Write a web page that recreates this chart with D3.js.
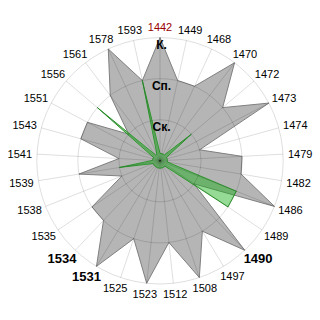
<!DOCTYPE html>
<html><head><meta charset="utf-8">
<script src="https://cdn.jsdelivr.net/npm/d3@7"></script>
<style>html,body{margin:0;padding:0;background:#fff;}svg{display:block;}</style>
</head><body>
<script>
const categories = ["1442","1449","1468","1470","1472","1473","1474","1479","1482","1486","1489","1490","1497","1508","1512","1523","1525","1531","1534","1535","1538","1539","1541","1543","1551","1556","1561","1578","1593"];
const grayValues = [3,2,2,3,2,3,1,2,2,3,1,3,2,3,2,3,2,3,2,2,1,2,1,2,2,1,2,3,2];
const greenValues = [0.18,0.18,0.18,0.18,1,0.18,0.18,0.18,0.18,2,2,0.18,0.18,0.18,0.18,0.18,0.18,0.18,0.18,0.18,0.18,1,0.18,0.18,0.18,2,0.18,0.18,2];
const levelValues = [1,2,3];
const levelLabels = ["Ск.","Сп.","К."];
const boldLabels = ["1490","1531","1534"];
const highlightLabel = "1442";

const W = 320, H = 320, cx = 160, cy = 160.8, R = 123.2;
const svg = d3.select("body").append("svg").attr("width", W).attr("height", H);
svg.append("rect").attr("width", W).attr("height", H).attr("fill", "#fff");
const g = svg.append("g").attr("transform", `translate(${cx},${cy})`);

const r = d3.scaleLinear().domain([0, 3]).range([0, R]);
const step = 2 * Math.PI / categories.length;
const ang = c => categories.indexOf(c) * step;

const line = d3.lineRadial().angle((d, i) => i * step).radius(d => r(d)).curve(d3.curveLinearClosed);

const gridColor = "rgba(0,0,0,0.13)";
g.append("path").attr("d", line(grayValues)).attr("fill", "#b5b5b5").attr("stroke", "#808080").attr("stroke-width", 1);
g.append("path").attr("d", line(greenValues)).attr("fill", "rgba(20,175,20,0.45)").attr("stroke", "#2f9a2f").attr("stroke-width", 1);

g.selectAll("circle.ring").data(levelValues).join("circle").attr("class", "ring")
  .attr("r", d => r(d)).attr("fill", "none").attr("stroke", gridColor).attr("stroke-width", 1);
g.selectAll("line.spoke").data(categories).join("line").attr("class", "spoke")
  .attr("x1", 0).attr("y1", 0)
  .attr("x2", d => r(3) * Math.sin(ang(d))).attr("y2", d => -r(3) * Math.cos(ang(d)))
  .attr("stroke", gridColor).attr("stroke-width", 1);

const gap = 5;
categories.forEach(c => {
  const a = ang(c);
  const s = Math.sin(a), co = Math.cos(a);
  const isBold = boldLabels.includes(c);
  const t = g.append("text").text(c)
    .attr("font-family", "'Liberation Sans', Arial, sans-serif")
    .attr("font-size", isBold ? 13 : 11)
    .attr("font-weight", isBold ? "bold" : "normal")
    .attr("fill", c === highlightLabel ? "#990000" : "#000")
    .attr("text-anchor", "middle").attr("dominant-baseline", "central");
  const w = t.node().getComputedTextLength();
  const h = isBold ? 7 : 6;
  t.attr("x", (r(3) + gap) * s + s * w / 2).attr("y", -(r(3) + gap) * co - co * h);
});

g.selectAll("text.level").data(levelValues).join("text").attr("class", "level")
  .attr("x", 1.5).attr("y", d => -r(d) + 11.5)
  .attr("text-anchor", "middle")
  .attr("font-family", "'Liberation Sans', Arial, sans-serif")
  .attr("font-size", 12).attr("font-weight", "bold").attr("fill", "#000")
  .text((d, i) => levelLabels[i]);
</script>
</body></html>
